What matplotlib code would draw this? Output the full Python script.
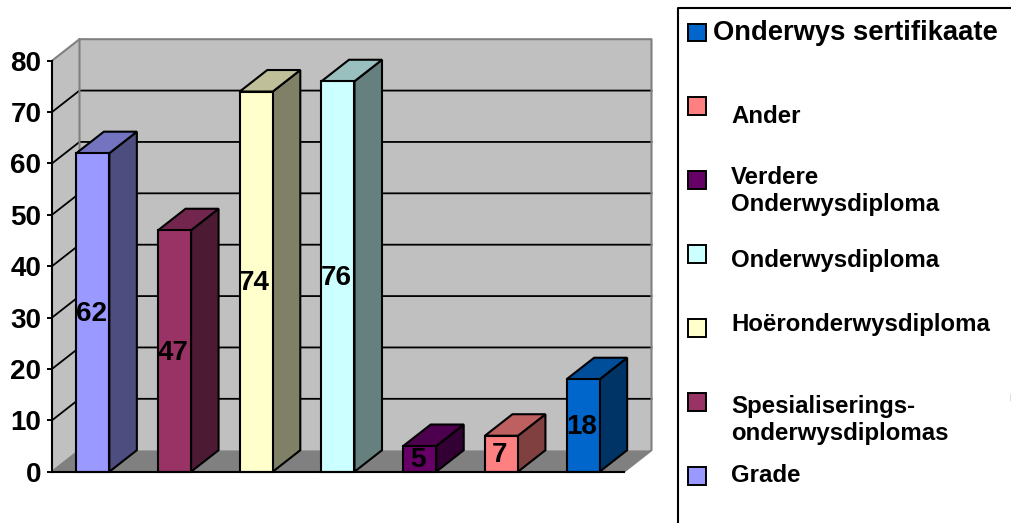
import matplotlib
matplotlib.use('Agg')
import matplotlib.pyplot as plt
from matplotlib.patches import Rectangle
from matplotlib.colors import to_rgb

plt.rcParams['font.family'] = ['Liberation Sans', 'DejaVu Sans']
plt.rcParams['font.weight'] = 'bold'

values = [62, 47, 74, 76, 5, 7, 18]
colors = ['#9999FF', '#993366', '#FFFFCC', '#CCFFFF', '#660066', '#FF8080', '#0066CC']
y_ticks = [0, 10, 20, 30, 40, 50, 60, 70, 80]

legend_title = 'Onderwys sertifikaate'
legend_names = ['Ander', 'Verdere\nOnderwysdiploma', 'Onderwysdiploma',
                'Hoëronderwysdiploma', 'Spesialiserings-\nonderwysdiplomas', 'Grade']
legend_colors = ['#FF8080', '#660066', '#CCFFFF', '#FFFFCC', '#993366', '#9999FF']

# legend layout in pixels
swatch_tops = [97, 171, 245, 319, 393, 467]
text_baselines = [123, 184, 267, 331, 413, 482]

W, H = 1012, 523
fig = plt.figure(figsize=(W / 100, H / 100), dpi=100)

# front plane of the chart
left, right, y0, y80 = 52, 624, 471.7, 60.7
ax = fig.add_axes([left / W, 1 - y0 / H, (right - left) / W, (y0 - y80) / H])
ax.set_xlim(0, len(values))
ax.set_ylim(0, 80)
ax.patch.set_visible(False)

# fake 3d depth, in data units
dx = 27.5 / ((right - left) / len(values))
dy = 21.5 / ((y0 - y80) / 80)
bar_w = 33 / ((right - left) / len(values))
xmax = len(values)


def shade(col, k):
    r, g, b = to_rgb(col)
    return (r * k, g * k, b * k)


# walls and floor
ax.fill([0, dx, dx, 0], [0, dy, 80 + dy, 80], color='#C0C0C0', lw=0, clip_on=False, zorder=1)
ax.fill([dx, xmax + dx, xmax + dx, dx], [dy, dy, 80 + dy, 80 + dy], color='#C0C0C0', lw=0, clip_on=False, zorder=1)
ax.fill([0, dx, xmax + dx, xmax], [0, dy, dy, 0], color='#808080', lw=0, clip_on=False, zorder=1)

# gridlines
for t in y_ticks[1:-1]:
    ax.plot([0, dx, xmax + dx], [t, t + dy, t + dy], color='black', lw=1.3, clip_on=False, zorder=2)

# wall outline
ax.plot([0, dx, xmax + dx, xmax + dx, xmax], [80, 80 + dy, 80 + dy, dy, 0],
        color='#808080', lw=1.5, clip_on=False, zorder=2)
ax.plot([dx, dx, 0], [80 + dy, dy, 0], color='#808080', lw=1.5, clip_on=False, zorder=2)

# bars, left to right
for i, v in enumerate(values):
    x1 = i + 0.5 - bar_w / 2
    x2 = i + 0.5 + bar_w / 2
    ax.fill([x2, x2 + dx, x2 + dx, x2], [0, dy, v + dy, v], facecolor=shade(colors[i], 0.5),
            edgecolor='black', lw=1.5, clip_on=False, zorder=3)
    ax.fill([x1, x2, x2 + dx, x1 + dx], [v, v, v + dy, v + dy], facecolor=shade(colors[i], 0.75),
            edgecolor='black', lw=1.5, clip_on=False, zorder=3)
    ax.bar(i + 0.5, v, width=bar_w, color=colors[i], edgecolor='black', lw=1.5, clip_on=False, zorder=4)
    ax.text(i + 0.48, v / 2 - 0.3, str(v), ha='center', va='center', fontsize=20, color='black', zorder=5)

ax.set_xticks([])
ax.set_yticks(y_ticks)
ax.tick_params(axis='y', length=3.8, width=1.4, pad=3.8, labelsize=20)
ax.spines['top'].set_visible(False)
ax.spines['right'].set_visible(False)
ax.spines['left'].set_linewidth(1.5)
ax.spines['bottom'].set_linewidth(1.5)
for s in ax.spines.values():
    s.set_zorder(6)

# legend box runs off the page on the right and bottom
lg = fig.add_axes([0, 0, 1, 1])
lg.set_xlim(0, W)
lg.set_ylim(H, 0)
lg.axis('off')
lg.plot([W + 5, 678, 678], [7.5, 7.5, H + 5], color='black', lw=1.5, clip_on=True)

lg.add_patch(Rectangle((688.5, 23.5), 17.5, 17, facecolor='#0066CC', edgecolor='black', lw=1.4))
lg.text(713, 40, legend_title, fontsize=19.7, ha='left', va='baseline')

for name, col, top, base in zip(legend_names, legend_colors, swatch_tops, text_baselines):
    lg.add_patch(Rectangle((688.5, top), 17.5, 17.5, facecolor=col, edgecolor='black', lw=1.4))
    lines = name.split('\n')
    lg.text(731, base, lines[0], fontsize=17.3, ha='left', va='baseline')
    if len(lines) > 1:
        lg.text(731, base + 27, lines[1], fontsize=17.3, ha='left', va='baseline')

lg.plot([1011.5, 1011.5], [394, 400], color='#555555', lw=1.0)

fig.savefig('out.png', dpi=100)
